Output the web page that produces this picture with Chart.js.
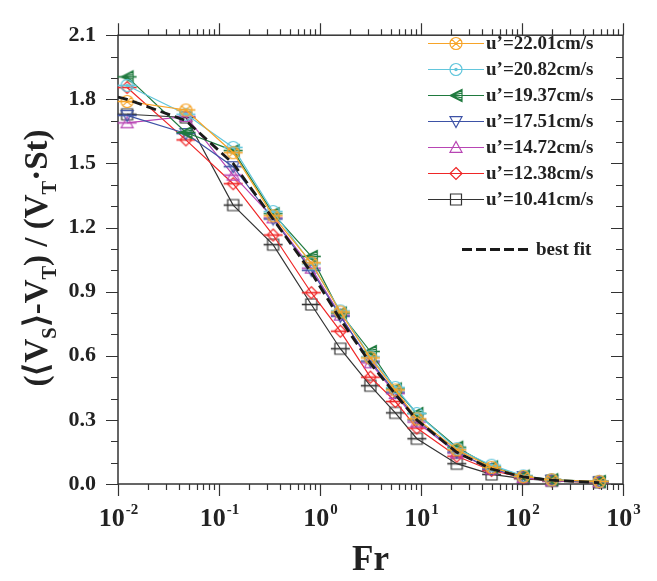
<!DOCTYPE html>
<html>
<head>
<meta charset="utf-8">
<script src="https://cdn.jsdelivr.net/npm/chart.js@4.4.1/dist/chart.umd.min.js"></script>
<style>
  html, body { margin: 0; padding: 0; background: #fff; }
</style>
</head>
<body>
<canvas id="chart" width="657" height="581"></canvas>
<script>
// Froude number bins (x)
const frValues = [0.0123, 0.047, 0.138, 0.343, 0.82, 1.59, 3.15, 5.57, 9.1, 22.6, 50, 103, 197, 582];

// normalized settling enhancement per turbulence level
const u2201 = [1.79, 1.75, 1.55, 1.255, 1.035, 0.805, 0.59, 0.44, 0.305, 0.16, 0.078, 0.035, 0.02, 0.012];
const u2082 = [1.865, 1.73, 1.575, 1.275, 1.03, 0.81, 0.595, 0.452, 0.33, 0.165, 0.088, 0.038, 0.02, 0.012];
const u1937 = [1.905, 1.645, 1.56, 1.265, 1.065, 0.8, 0.62, 0.445, 0.33, 0.172, 0.08, 0.037, 0.02, 0.012];
const u1751 = [1.725, 1.64, 1.485, 1.24, 1.0, 0.785, 0.575, 0.43, 0.3, 0.15, 0.07, 0.035, 0.018, 0.01];
const u1472 = [1.69, 1.72, 1.445, 1.245, 1.01, 0.79, 0.567, 0.423, 0.29, 0.145, 0.07, 0.03, 0.015, 0.01];
const u1238 = [1.855, 1.61, 1.405, 1.165, 0.895, 0.715, 0.5, 0.386, 0.262, 0.13, 0.063, 0.03, 0.015, 0.008];
const u1041 = [1.73, 1.715, 1.305, 1.12, 0.84, 0.633, 0.46, 0.333, 0.212, 0.095, 0.045, 0.025, 0.015, 0.008];

const fitFr = [0.01, 0.0123, 0.047, 0.138, 0.343, 0.82, 1.59, 3.15, 5.57, 9.1, 22.6, 50, 103, 197, 582];
const fitValues = [1.81, 1.80, 1.70, 1.50, 1.24, 0.99, 0.77, 0.565, 0.42, 0.30, 0.148, 0.07, 0.033, 0.018, 0.006];

const seriesLabels = ["u’=22.01cm/s", "u’=20.82cm/s", "u’=19.37cm/s", "u’=17.51cm/s", "u’=14.72cm/s", "u’=12.38cm/s", "u’=10.41cm/s"];
const seriesValues = [u2201, u2082, u1937, u1751, u1472, u1238, u1041];
const seriesColors = ["#f7a428", "#62c6dc", "#1f7a3e", "#3d52a6", "#b845b4", "#ef2727", "#333333"];
const seriesShapes = ["circleX", "circleDot", "triLeft", "triDown", "triUp", "diamond", "square"];
const fitLabel = "best fit";

const xTickPowers = [-2, -1, 0, 1, 2, 3];

const serif = "'Liberation Serif', 'Times New Roman', serif";

function drawMarker(ctx, shape, color, cx, cy) {
  const r = 6;
  ctx.strokeStyle = color;
  ctx.fillStyle = color;
  ctx.lineWidth = 1.2;
  ctx.beginPath();
  if (shape === "circleX") {
    ctx.arc(cx, cy, r, 0, Math.PI * 2);
    const d = r * 0.7;
    ctx.moveTo(cx - d, cy - d); ctx.lineTo(cx + d, cy + d);
    ctx.moveTo(cx + d, cy - d); ctx.lineTo(cx - d, cy + d);
  } else if (shape === "circleDot") {
    ctx.arc(cx, cy, r, 0, Math.PI * 2);
    ctx.stroke();
    ctx.beginPath();
    ctx.arc(cx, cy, 1.2, 0, Math.PI * 2);
    ctx.fill();
  } else if (shape === "triLeft") {
    ctx.moveTo(cx - r, cy); ctx.lineTo(cx + r, cy - r); ctx.lineTo(cx + r, cy + r); ctx.closePath();
    for (let k = -2; k <= 2; k++) { ctx.moveTo(cx - r, cy); ctx.lineTo(cx + r, cy + k * r / 2.5); }
  } else if (shape === "triDown") {
    ctx.moveTo(cx - r, cy - r * 0.8); ctx.lineTo(cx + r, cy - r * 0.8); ctx.lineTo(cx, cy + r); ctx.closePath();
  } else if (shape === "triUp") {
    ctx.moveTo(cx - r, cy + r * 0.8); ctx.lineTo(cx + r, cy + r * 0.8); ctx.lineTo(cx, cy - r); ctx.closePath();
  } else if (shape === "diamond") {
    ctx.moveTo(cx, cy - r); ctx.lineTo(cx + r, cy); ctx.lineTo(cx, cy + r); ctx.lineTo(cx - r, cy); ctx.closePath();
  } else if (shape === "square") {
    ctx.rect(cx - r + 0.5, cy - r + 0.5, 2 * r - 1, 2 * r - 1);
  }
  ctx.stroke();
}

// marker with a horizontal error bar through it
function makePointImage(shape, color) {
  const c = document.createElement("canvas");
  c.width = 21; c.height = 17;
  const ctx = c.getContext("2d");
  ctx.strokeStyle = color;
  ctx.lineWidth = 1.6;
  ctx.beginPath(); ctx.moveTo(1, 8.5); ctx.lineTo(20, 8.5); ctx.stroke();
  drawMarker(ctx, shape, color, 10.5, 8.5);
  return c;
}

const datasets = [{
  label: fitLabel,
  data: fitFr.map((x, i) => ({ x, y: fitValues[i] })),
  borderColor: "#1a1a1a",
  borderWidth: 2.8,
  borderDash: [10, 5],
  pointRadius: 0,
  fill: false,
}];
seriesLabels.forEach((label, i) => {
  datasets.push({
    label,
    data: frValues.map((x, j) => ({ x, y: seriesValues[i][j] })),
    borderColor: seriesColors[i],
    borderWidth: 1.2,
    pointStyle: makePointImage(seriesShapes[i], seriesColors[i]),
    pointRadius: 6,
    fill: false,
    clip: false,
  });
});

function drawRich(ctx, parts, size) {
  // parts: [text, isSub]
  let width = 0;
  parts.forEach(([t, sub]) => {
    ctx.font = `bold ${sub ? size * 0.62 : size}px ${serif}`;
    width += ctx.measureText(t).width;
  });
  let x = -width / 2;
  parts.forEach(([t, sub]) => {
    ctx.font = `bold ${sub ? size * 0.62 : size}px ${serif}`;
    ctx.fillText(t, x, sub ? size * 0.28 : 0);
    x += ctx.measureText(t).width;
  });
}

const framePlugin = {
  id: "frame",
  beforeDatasetsDraw(chart) {
    const { ctx, chartArea: a, scales: { x, y } } = chart;
    ctx.save();
    ctx.strokeStyle = "#333";
    ctx.lineWidth = 1.5;
    ctx.strokeRect(a.left, a.top, a.right - a.left, a.bottom - a.top);
    ctx.lineWidth = 1.2;
    ctx.beginPath();
    // y ticks every 0.1, major every 0.3
    for (let k = 0; k <= 21; k++) {
      const py = Math.round(y.getPixelForValue(k / 10)) + 0.5;
      const len = k % 3 === 0 ? 12 : 7;
      ctx.moveTo(a.left, py); ctx.lineTo(a.left - len, py);
      ctx.moveTo(a.right, py); ctx.lineTo(a.right - len, py);
    }
    // log x ticks
    for (let p = -2; p <= 2; p++) {
      for (let m = 1; m <= 9; m++) {
        const px = Math.round(x.getPixelForValue(m * Math.pow(10, p))) + 0.5;
        const len = m === 1 ? 12 : 6;
        ctx.moveTo(px, a.bottom); ctx.lineTo(px, a.bottom + len);
        ctx.moveTo(px, a.top); ctx.lineTo(px, a.top - len);
      }
    }
    const pEnd = Math.round(x.getPixelForValue(1000)) + 0.5;
    ctx.moveTo(pEnd, a.bottom); ctx.lineTo(pEnd, a.bottom + 12);
    ctx.moveTo(pEnd, a.top); ctx.lineTo(pEnd, a.top - 12);
    ctx.stroke();
    ctx.restore();
  },
  afterDraw(chart) {
    const { ctx, chartArea: a, scales: { x } } = chart;
    ctx.save();
    ctx.fillStyle = "#222";
    // x tick labels with superscripts
    ctx.textBaseline = "alphabetic";
    xTickPowers.forEach((p) => {
      const px = x.getPixelForValue(Math.pow(10, p));
      ctx.font = `bold 26px ${serif}`;
      const w1 = ctx.measureText("10").width;
      ctx.font = `bold 15px ${serif}`;
      const exp = String(p);
      const w2 = ctx.measureText(exp).width;
      const left = px - (w1 + w2) / 2;
      ctx.font = `bold 26px ${serif}`;
      ctx.textAlign = "left";
      ctx.fillText("10", left, 526);
      ctx.font = `bold 15px ${serif}`;
      ctx.fillText(exp, left + w1 + 1, 514);
    });
    // axis titles
    ctx.textAlign = "left";
    ctx.save();
    ctx.translate((a.left + a.right) / 2, 570);
    drawRich(ctx, [["Fr", false]], 35);
    ctx.restore();
    ctx.save();
    ctx.translate(47, 258);
    ctx.rotate(-Math.PI / 2);
    drawRich(ctx, [["(⟨V", false], ["S", true], ["⟩-V", false], ["T", true], [") / (V", false], ["T", true], ["·St)", false]], 33);
    ctx.restore();

    // legend
    ctx.textBaseline = "middle";
    ctx.font = `bold 19px ${serif}`;
    seriesLabels.forEach((label, i) => {
      const ly = 43 + i * 26 + 0.5;
      ctx.strokeStyle = seriesColors[i];
      ctx.lineWidth = 1.2;
      ctx.beginPath(); ctx.moveTo(428, ly); ctx.lineTo(484, ly); ctx.stroke();
      ctx.fillStyle = "#fff";
      drawMarker(ctx, seriesShapes[i], seriesColors[i], 456, ly);
      ctx.fillStyle = "#222";
      ctx.fillText(label, 486, ly + 1);
    });
    const fy = 249.5;
    ctx.strokeStyle = "#1a1a1a";
    ctx.lineWidth = 2.8;
    ctx.setLineDash([10, 4]);
    ctx.beginPath(); ctx.moveTo(462, fy); ctx.lineTo(530, fy); ctx.stroke();
    ctx.setLineDash([]);
    ctx.fillText(fitLabel, 536, fy + 1);
    ctx.restore();
  },
};

new Chart(document.getElementById("chart"), {
  type: "line",
  data: { datasets },
  options: {
    responsive: false,
    animation: false,
    devicePixelRatio: 1,
    layout: { padding: { top: 17, right: 34, left: 0, bottom: 0 } },
    plugins: { legend: { display: false }, tooltip: { enabled: false } },
    scales: {
      x: {
        type: "logarithmic",
        min: 0.01,
        max: 1000,
        grid: { display: false, drawTicks: false },
        border: { display: false },
        ticks: { display: false },
        afterFit(scale) { scale.height = 97; },
      },
      y: {
        min: 0,
        max: 2.1,
        grid: { display: false, drawTicks: false },
        border: { display: false },
        ticks: {
          stepSize: 0.3,
          padding: 22,
          color: "#222",
          font: { family: serif, weight: "bold", size: 22 },
          callback: (v) => Number(v).toFixed(1),
        },
        afterFit(scale) { scale.width = 118; },
      },
    },
  },
  plugins: [framePlugin],
});
</script>
</body>
</html>
